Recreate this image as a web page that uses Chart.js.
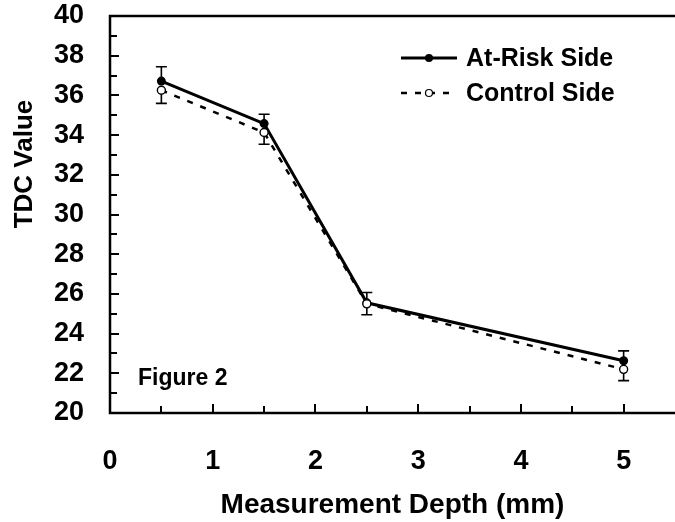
<!DOCTYPE html>
<html>
<head>
<meta charset="utf-8">
<script src="https://cdn.jsdelivr.net/npm/chart.js@4/dist/chart.umd.min.js"></script>
<style>
  html, body { margin: 0; padding: 0; background: #fff; overflow: hidden; }
  #wrap { width: 675px; height: 522px; }
</style>
</head>
<body>
<div id="wrap"><canvas id="chart"></canvas></div>
<script>
// values
const depths = [0.5, 1.5, 2.5, 5];
const atRisk = [36.72, 34.58, 25.55, 22.63];
const atRiskErr = [0.72, 0.47, 0.52, 0.5];
const control = [36.26, 34.13, 25.5, 22.2];
const controlErr = [0.66, 0.59, 0.55, 0.57];
const xTicks = [0, 1, 2, 3, 4, 5];
const yTicks = [20, 22, 24, 26, 28, 30, 32, 34, 36, 38, 40];
const seriesNames = ['At-Risk Side', 'Control Side'];
const xTitle = 'Measurement Depth (mm)';
const yTitle = 'TDC Value';

const FONT = '"Liberation Sans", Arial, sans-serif';

function toPoints(xs, ys) {
  return xs.map((x, i) => ({ x: x, y: ys[i] }));
}

// inward tick marks, axis box, error bars, legend, y title and label
const extras = {
  id: 'extras',
  afterDatasetsDraw(chart) {
    const ctx = chart.ctx;
    const xs = chart.scales.x, ys = chart.scales.y;
    const area = chart.chartArea;
    ctx.save();
    ctx.strokeStyle = '#000';

    ctx.lineWidth = 2.5;
    ctx.beginPath();
    ctx.moveTo(area.right + 5, area.top);
    ctx.lineTo(area.left, area.top);
    ctx.lineTo(area.left, area.bottom);
    ctx.lineTo(area.right + 5, area.bottom);
    ctx.stroke();

    // x ticks every 0.5 pointing up
    ctx.lineWidth = 2;
    for (let v = 0.5; v <= 5.0001; v += 0.5) {
      const px = Math.round(xs.getPixelForValue(v));
      const len = Number.isInteger(v) ? 9 : 7;
      ctx.beginPath();
      ctx.moveTo(px, area.bottom);
      ctx.lineTo(px, area.bottom - len);
      ctx.stroke();
    }
    // y ticks every 1 pointing right
    for (let v = 21; v <= 39; v += 1) {
      const py = Math.round(ys.getPixelForValue(v));
      const len = v % 2 === 0 ? 9 : 7;
      ctx.beginPath();
      ctx.moveTo(area.left, py);
      ctx.lineTo(area.left + len, py);
      ctx.stroke();
    }

    // error bars: at-risk upward, control downward
    ctx.lineWidth = 1.6;
    const cap = 5.5;
    function errBar(x, y0, y1) {
      const px = xs.getPixelForValue(x);
      const a = ys.getPixelForValue(y0), b = ys.getPixelForValue(y1);
      ctx.beginPath();
      ctx.moveTo(px, a); ctx.lineTo(px, b);
      ctx.moveTo(px - cap, b); ctx.lineTo(px + cap, b);
      ctx.stroke();
    }
    depths.forEach((d, i) => {
      errBar(d, atRisk[i], atRisk[i] + atRiskErr[i]);
      errBar(d, control[i], control[i] - controlErr[i]);
    });

    // markers on top of the error bars
    chart.getDatasetMeta(0).data.forEach(p => {
      ctx.beginPath(); ctx.arc(p.x, p.y, 4.5, 0, Math.PI * 2);
      ctx.fillStyle = '#000'; ctx.fill();
    });
    chart.getDatasetMeta(1).data.forEach(p => {
      ctx.beginPath(); ctx.arc(p.x, p.y, 4, 0, Math.PI * 2);
      ctx.fillStyle = '#fff'; ctx.fill();
      ctx.lineWidth = 1.4; ctx.strokeStyle = '#000'; ctx.stroke();
    });

    // legend
    ctx.font = 'bold 25px ' + FONT;
    ctx.fillStyle = '#000';
    ctx.textBaseline = 'alphabetic';
    const lx0 = 401, lx1 = 457, tx = 466;
    const rows = [58, 93];
    ctx.lineWidth = 3;
    ctx.setLineDash([]);
    ctx.beginPath(); ctx.moveTo(lx0, rows[0]); ctx.lineTo(lx1, rows[0]); ctx.stroke();
    ctx.beginPath(); ctx.arc((lx0 + lx1) / 2, rows[0], 4, 0, Math.PI * 2); ctx.fill();
    ctx.lineWidth = 2.5;
    ctx.setLineDash([6, 8]);
    ctx.beginPath(); ctx.moveTo(lx0, rows[1]); ctx.lineTo(lx1, rows[1]); ctx.stroke();
    ctx.setLineDash([]);
    ctx.beginPath(); ctx.arc((lx0 + lx1) / 2, rows[1], 3.5, 0, Math.PI * 2);
    ctx.fillStyle = '#fff'; ctx.fill(); ctx.lineWidth = 1.2; ctx.stroke();
    ctx.fillStyle = '#000';
    ctx.fillText(seriesNames[0], tx, rows[0] + 8);
    ctx.fillText(seriesNames[1], tx, rows[1] + 8);

    // figure label
    ctx.font = 'bold 23px ' + FONT;
    ctx.fillText('Figure 2', area.left + 28, area.bottom - 28);

    // y title sits above the plot centre in the source figure
    ctx.font = 'bold 26px ' + FONT;
    ctx.textAlign = 'center';
    ctx.textBaseline = 'middle';
    ctx.translate(25, 164);
    ctx.rotate(-Math.PI / 2);
    ctx.fillText(yTitle, 0, 0);
    ctx.restore();
  }
};

new Chart(document.getElementById('chart'), {
  type: 'scatter',
  data: {
    datasets: [
      {
        label: seriesNames[0],
        data: toPoints(depths, atRisk),
        showLine: true,
        borderColor: '#000',
        borderWidth: 3,
        pointRadius: 0,
        tension: 0
      },
      {
        label: seriesNames[1],
        data: toPoints(depths, control),
        showLine: true,
        borderColor: '#000',
        borderWidth: 2.5,
        borderDash: [6, 8],
        pointRadius: 0,
        tension: 0
      }
    ]
  },
  options: {
    responsive: true,
    maintainAspectRatio: false,
    animation: false,
    layout: { padding: { top: 16, right: 0, left: 0, bottom: 0 } },
    plugins: {
      legend: { display: false },
      tooltip: { enabled: false }
    },
    scales: {
      x: {
        type: 'linear',
        min: 0,
        max: 5.5,
        afterBuildTicks: s => { s.ticks = xTicks.map(v => ({ value: v })); },
        afterFit: s => {
          s.height = 109;
          s.paddingLeft = 0; s.paddingRight = 0;
        },
        grid: { display: false, drawTicks: false },
        border: { display: false },
        ticks: {
          color: '#000',
          padding: 32,
          font: { family: FONT, size: 27, weight: 'bold' }
        },
        title: {
          display: true,
          text: xTitle,
          color: '#000',
          padding: { top: 0, bottom: 0 },
          font: { family: FONT, size: 28, weight: 'bold' }
        }
      },
      y: {
        min: 20,
        max: 40,
        afterBuildTicks: s => { s.ticks = yTicks.map(v => ({ value: v })); },
        afterFit: s => {
          s.width = 110;
          s.paddingTop = 0; s.paddingBottom = 0;
        },
        grid: { display: false, drawTicks: false },
        border: { display: false },
        ticks: {
          color: '#000',
          padding: 26,
          font: { family: FONT, size: 27, weight: 'bold' }
        },
        title: { display: false }
      }
    }
  },
  plugins: [extras]
});
</script>
</body>
</html>
